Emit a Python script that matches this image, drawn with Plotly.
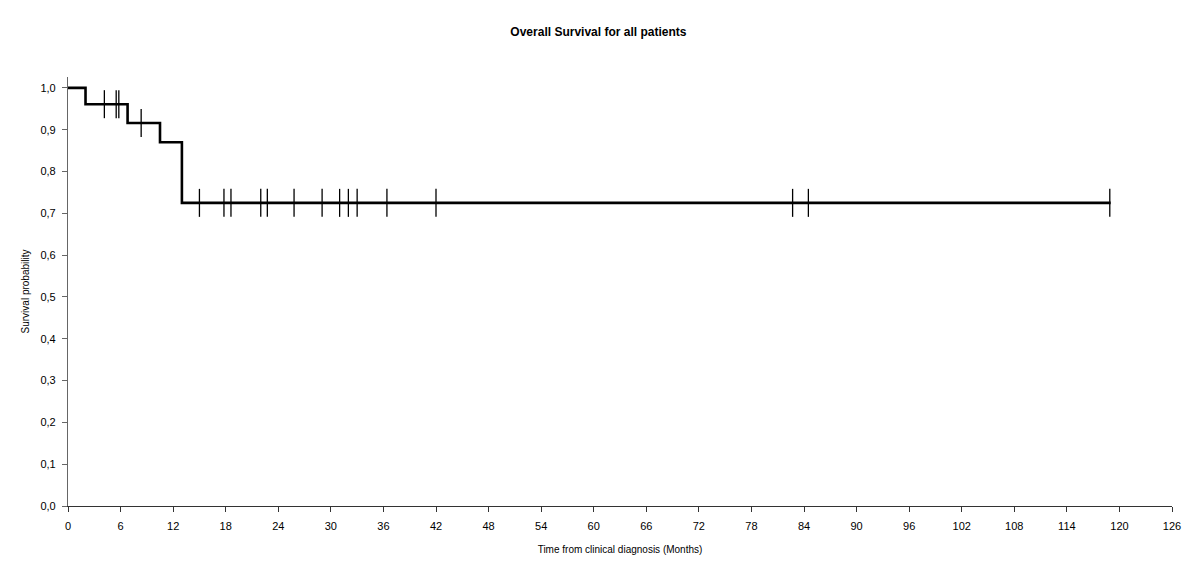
import numpy as np
import plotly.graph_objects as go

# Kaplan-Meier step curve (months, survival probability)
event_times = [0, 2.0, 6.8, 10.5, 13.0, 119.0]
survival = [1.0, 0.961, 0.916, 0.870, 0.725, 0.725]

# censored observations (months)
censored = [4.15, 5.5, 5.8, 8.35, 15.0, 17.8, 18.6, 22.0, 22.75, 25.8, 29.0,
            31.0, 32.0, 33.0, 36.4, 42.0, 82.7, 84.5, 118.9]

x_ticks = list(range(0, 127, 6))
y_ticks = [i / 10 for i in range(0, 11)]


def surv_at(t):
    # value of the step function at time t
    idx = np.searchsorted(event_times, t, side='right') - 1
    return survival[idx]


fig = go.Figure()

fig.add_trace(go.Scatter(
    x=event_times, y=survival, mode='lines', line_shape='hv',
    line=dict(color='black', width=2.6), hoverinfo='skip'
))

fig.add_trace(go.Scatter(
    x=censored, y=[surv_at(t) for t in censored], mode='markers',
    marker=dict(symbol='line-ns', size=20, line=dict(color='black', width=1.3)),
    hoverinfo='skip'
))

# page body adds an 8px offset, so margins are shifted by that amount
fig.update_layout(
    width=1200, height=575,
    paper_bgcolor='white', plot_bgcolor='white',
    showlegend=False,
    separators=',.',
    margin=dict(l=60, r=36, t=69, b=77),
    font=dict(family='Liberation Sans, Arial, sans-serif', size=11, color='black'),
    title=dict(text='<b>Overall Survival for all patients</b>', x=0.492, xanchor='center',
               y=0.958, yanchor='middle',
               font=dict(family='Liberation Sans Narrow, Liberation Sans, Arial', size=12)),
)

fig.update_xaxes(
    range=[0, 126], tickvals=x_ticks, showgrid=False, zeroline=False, automargin=False,
    showline=True, linecolor='#333', linewidth=1.2,
    ticks='outside', ticklen=5, tickcolor='#333', ticklabelstandoff=5,
    title=dict(text='Time from clinical diagnosis (Months)', standoff=14,
               font=dict(size=10)),
)
fig.update_yaxes(
    range=[0, 1.026], tickvals=y_ticks, tickformat='.1f', showgrid=False, zeroline=False,
    automargin=False,
    showline=True, linecolor='#666', linewidth=1.2,
    ticks='outside', ticklen=5, tickcolor='#666', ticklabelstandoff=4,
    title=dict(text='Survival probability', standoff=8, font=dict(size=10)),
)

fig.write_html("out.html")
